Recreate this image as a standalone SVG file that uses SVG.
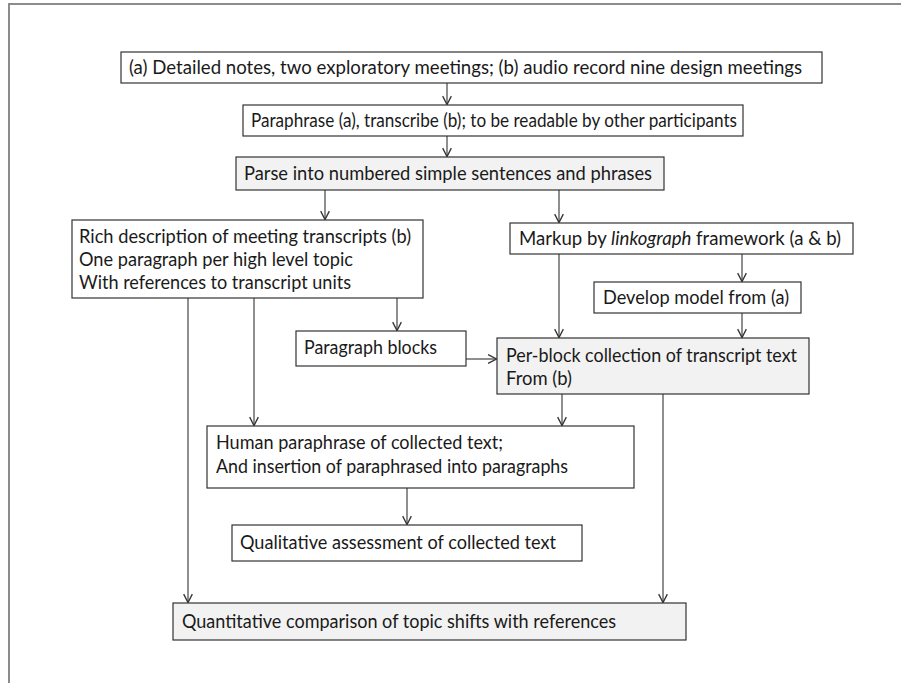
<svg xmlns="http://www.w3.org/2000/svg" width="901" height="683" viewBox="0 0 901 683">
  <style>
    .box { fill: #ffffff; stroke: #333333; stroke-width: 1.2; }
    .shaded { fill: #f2f2f2; }
    .label { font-family: Lato, "Open Sans", "Liberation Sans", sans-serif; font-size: 19.5px; fill: #1a1a1a; }
    .link { fill: none; stroke: #333333; stroke-width: 1.1; marker-end: url(#arrow); }
    .frame { fill: none; stroke: #808080; stroke-width: 1.8; }
  </style>
  <defs>
    <marker id="arrow" markerUnits="userSpaceOnUse" markerWidth="12" markerHeight="12" viewBox="-8 -5 10 10" refX="0" refY="0" orient="auto">
      <path d="M-7,-3.6 L0,0 L-7,3.6" fill="none" stroke="#333333" stroke-width="1.1"/>
    </marker>
  </defs>

  <rect width="901" height="683" fill="#ffffff"/>
  <!-- page frame (continues past the right and bottom edges) -->
  <rect class="frame" x="9" y="4" width="910" height="700"/>

  <g id="connectors">
    <path class="link" d="M447,83 V104.5"/>
    <path class="link" d="M447,136 V156.5"/>
    <path class="link" d="M325,190 V219.5"/>
    <path class="link" d="M559,190 V222.5"/>
    <path class="link" d="M742,254 V281.5"/>
    <path class="link" d="M559,254 V337.5"/>
    <path class="link" d="M742,313 V337.5"/>
    <path class="link" d="M397,298 V330.5"/>
    <path class="link" d="M466,359 H496.5"/>
    <path class="link" d="M254,298 V425.5"/>
    <path class="link" d="M188,298 V602.5"/>
    <path class="link" d="M562,394 V425.5"/>
    <path class="link" d="M663,394 V602.5"/>
    <path class="link" d="M407,488 V524.5"/>
  </g>

  <g id="sources">
    <rect class="box" x="121" y="52" width="701" height="31"/>
    <text class="label" x="129" y="74" textLength="673" lengthAdjust="spacingAndGlyphs">(a) Detailed notes, two exploratory meetings; (b) audio record nine design meetings</text>
  </g>

  <g id="paraphrase">
    <rect class="box" x="243" y="105" width="500" height="31"/>
    <text class="label" x="251" y="127" textLength="486" lengthAdjust="spacingAndGlyphs">Paraphrase (a), transcribe (b); to be readable by other participants</text>
  </g>

  <g id="parse">
    <rect class="box shaded" x="236" y="157" width="428" height="33"/>
    <text class="label" x="244" y="180" textLength="408" lengthAdjust="spacingAndGlyphs">Parse into numbered simple sentences and phrases</text>
  </g>

  <g id="rich-description">
    <rect class="box" x="72" y="220" width="351" height="78"/>
    <text class="label" x="79" y="243" textLength="332" lengthAdjust="spacingAndGlyphs">Rich description of meeting transcripts (b)</text>
    <text class="label" x="79" y="266" textLength="274" lengthAdjust="spacingAndGlyphs">One paragraph per high level topic</text>
    <text class="label" x="79" y="289" textLength="272" lengthAdjust="spacingAndGlyphs">With references to transcript units</text>
  </g>

  <g id="markup">
    <rect class="box" x="510" y="223" width="343" height="31"/>
    <text class="label" x="519" y="245" textLength="322" lengthAdjust="spacingAndGlyphs">Markup by <tspan font-style="italic">linkograph</tspan> framework (a &amp; b)</text>
  </g>

  <g id="develop-model">
    <rect class="box" x="594" y="282" width="207" height="31"/>
    <text class="label" x="603" y="304" textLength="186" lengthAdjust="spacingAndGlyphs">Develop model from (a)</text>
  </g>

  <g id="paragraph-blocks">
    <rect class="box" x="296" y="331" width="170" height="35"/>
    <text class="label" x="304" y="354" textLength="133" lengthAdjust="spacingAndGlyphs">Paragraph blocks</text>
  </g>

  <g id="per-block">
    <rect class="box shaded" x="497" y="338" width="312" height="56"/>
    <text class="label" x="506" y="362" textLength="291" lengthAdjust="spacingAndGlyphs">Per-block collection of transcript text</text>
    <text class="label" x="506" y="385" textLength="66" lengthAdjust="spacingAndGlyphs">From (b)</text>
  </g>

  <g id="human-paraphrase">
    <rect class="box" x="207" y="426" width="427" height="62"/>
    <text class="label" x="216" y="449" textLength="287" lengthAdjust="spacingAndGlyphs">Human paraphrase of collected text;</text>
    <text class="label" x="216" y="473" textLength="352" lengthAdjust="spacingAndGlyphs">And insertion of paraphrased into paragraphs</text>
  </g>

  <g id="qualitative">
    <rect class="box" x="232" y="525" width="350" height="36"/>
    <text class="label" x="240" y="549" textLength="316" lengthAdjust="spacingAndGlyphs">Qualitative assessment of collected text</text>
  </g>

  <g id="quantitative">
    <rect class="box shaded" x="173" y="603" width="513" height="37"/>
    <text class="label" x="182" y="628" textLength="434" lengthAdjust="spacingAndGlyphs">Quantitative comparison of topic shifts with references</text>
  </g>
</svg>
